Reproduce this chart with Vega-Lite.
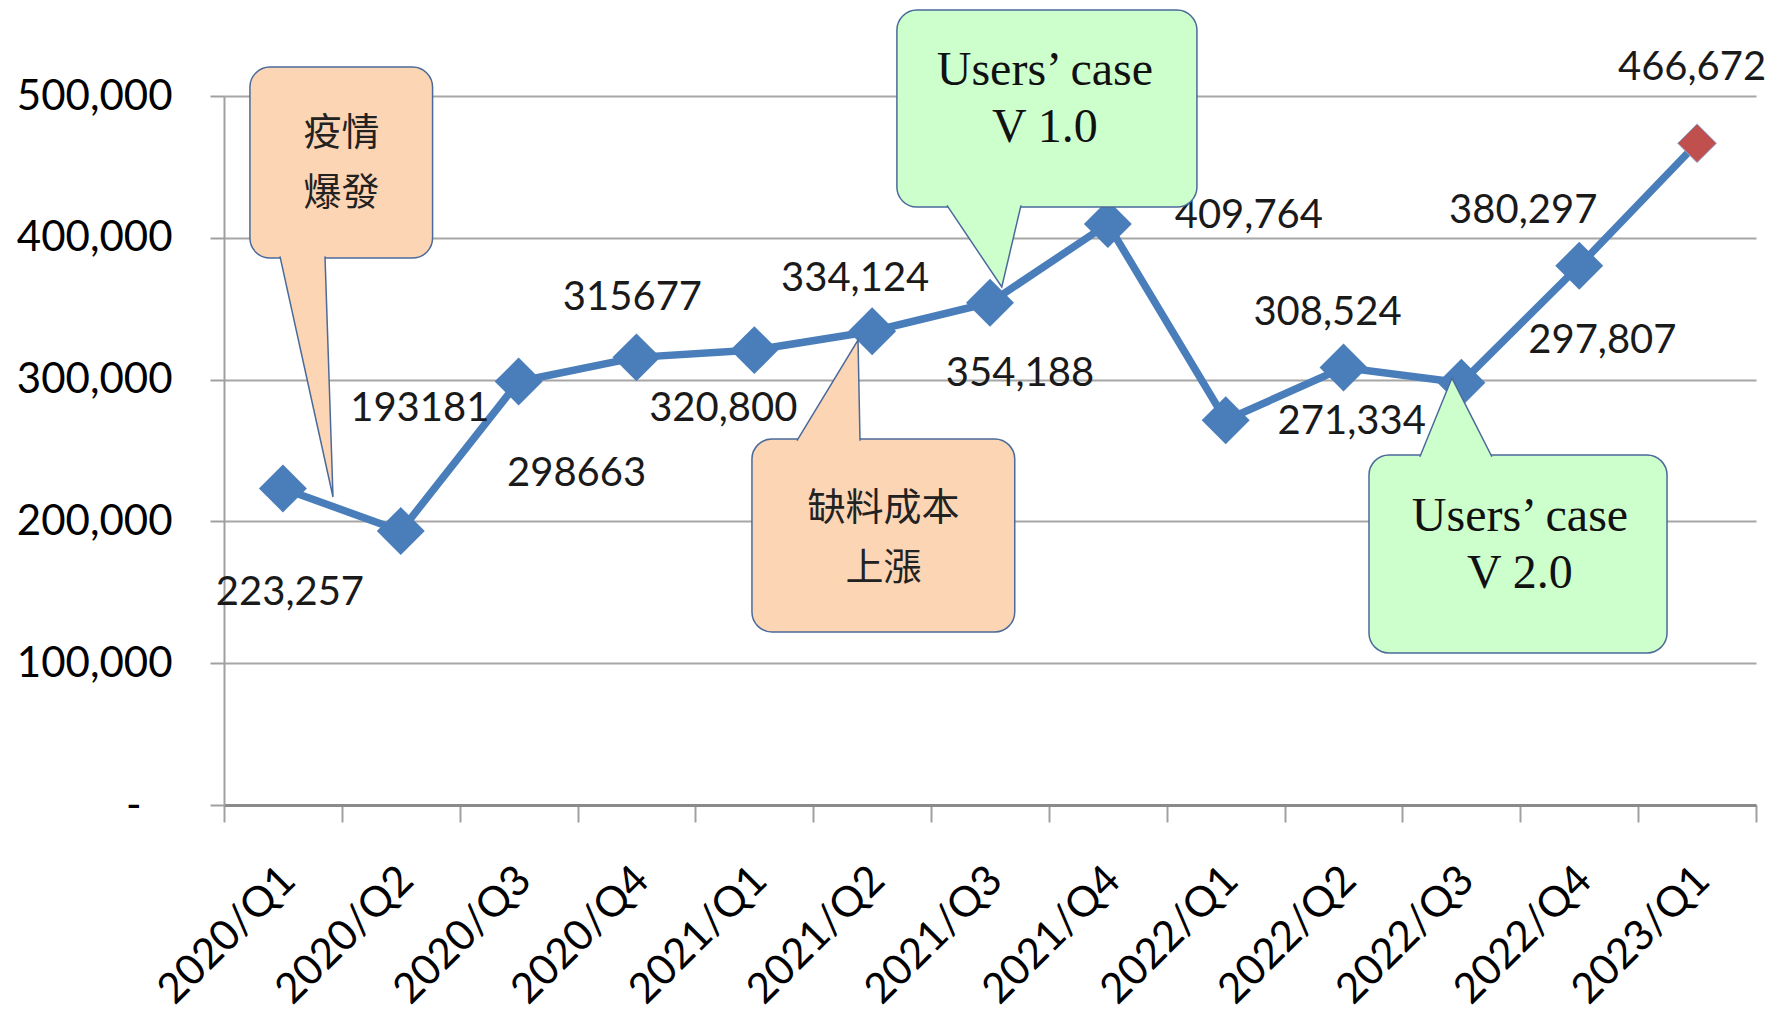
{
  "$schema": "https://vega.github.io/schema/vega-lite/v6.json",
  "width": 1532,
  "height": 709,
  "autosize": {"type": "none"},
  "padding": {"left": 224, "top": 96, "right": 15, "bottom": 219},
  "background": "white",
  "config": {"view": {"stroke": null}, "font": "Lato"},
  "datasets": {
    "sales": [
      {"q": "2020/Q1", "v": 223257, "label": "223,257"},
      {"q": "2020/Q2", "v": 193181, "label": "193181"},
      {"q": "2020/Q3", "v": 298663, "label": "298663"},
      {"q": "2020/Q4", "v": 315677, "label": "315677"},
      {"q": "2021/Q1", "v": 320800, "label": "320,800"},
      {"q": "2021/Q2", "v": 334124, "label": "334,124"},
      {"q": "2021/Q3", "v": 354188, "label": "354,188"},
      {"q": "2021/Q4", "v": 409764, "label": "409,764"},
      {"q": "2022/Q1", "v": 271334, "label": "271,334"},
      {"q": "2022/Q2", "v": 308524, "label": "308,524"},
      {"q": "2022/Q3", "v": 297807, "label": "297,807"},
      {"q": "2022/Q4", "v": 380297, "label": "380,297"},
      {"q": "2023/Q1", "v": 466672, "label": "466,672"}
    ],
    "boxes": [
      {"id": "A", "kind": "peach", "x1": 0.22, "x2": 1.77, "y1": 520400, "y2": 385700},
      {"id": "B", "kind": "peach", "x1": 4.48, "x2": 6.71, "y1": 258100, "y2": 122000},
      {"id": "C", "kind": "green", "x1": 5.71, "x2": 8.256, "y1": 560600, "y2": 421700},
      {"id": "D", "kind": "green", "x1": 9.716, "x2": 12.245, "y1": 246800, "y2": 107200}
    ],
    "pointers": [
      {"id": "A", "kind": "peach", "k": 1, "px": 0.475, "py": 386900},
      {"id": "A", "kind": "peach", "k": 2, "px": 0.925, "py": 217200},
      {"id": "A", "kind": "peach", "k": 3, "px": 0.857, "py": 386900},
      {"id": "B", "kind": "peach", "k": 1, "px": 4.862, "py": 256900},
      {"id": "B", "kind": "peach", "k": 2, "px": 5.38, "py": 327900},
      {"id": "B", "kind": "peach", "k": 3, "px": 5.397, "py": 256900},
      {"id": "C", "kind": "green", "k": 1, "px": 6.135, "py": 422900},
      {"id": "C", "kind": "green", "k": 2, "px": 6.6, "py": 365300},
      {"id": "C", "kind": "green", "k": 3, "px": 6.763, "py": 422900},
      {"id": "D", "kind": "green", "k": 1, "px": 10.148, "py": 245600},
      {"id": "D", "kind": "green", "k": 2, "px": 10.42, "py": 301100},
      {"id": "D", "kind": "green", "k": 3, "px": 10.759, "py": 245600}
    ],
    "notes": [
      {"id": "A", "kind": "cjk", "tx": 0.997, "ty": 453400, "text": "疫情\n爆發"},
      {"id": "B", "kind": "cjk", "tx": 5.596, "ty": 189000, "text": "缺料成本\n上漲"},
      {"id": "C", "kind": "latin", "tx": 6.966, "ty": 497900, "text": "Users’ case\nV 1.0"},
      {"id": "D", "kind": "latin", "tx": 10.997, "ty": 183400, "text": "Users’ case\nV 2.0"}
    ]
  },
  "resolve": {"scale": {"x": "independent", "y": "independent"}},
  "layer": [
    {
      "data": {"name": "sales"},
      "encoding": {
        "x": {
          "field": "q", "type": "ordinal", "sort": null, "bandPosition": 0.5,
          "scale": {"type": "band", "paddingInner": 0, "paddingOuter": 0},
          "axis": {
            "title": null, "labelAngle": -45, "labelFont": "Lato", "labelFontSize": 42,
            "labelColor": "#000000", "tickBand": "extent", "tickSize": 17,
            "tickColor": "#a0a0a0", "tickWidth": 2, "domainColor": "#8a8a8a",
            "domainWidth": 3, "grid": false, "labelPadding": 37, "labelOffset": -9
          }
        },
        "y": {
          "field": "v", "type": "quantitative",
          "scale": {"domain": [0, 500000], "nice": false},
          "axis": {
            "title": null, "values": [0, 100000, 200000, 300000, 400000, 500000],
            "labelExpr": "datum.value == 0 ? '-\u2800' : format(datum.value, ',')",
            "labelFont": "Lato", "labelFontSize": 42, "labelColor": "#000000",
            "tickSize": 14, "tickColor": "#a0a0a0", "tickWidth": 2,
            "domainColor": "#a0a0a0", "domainWidth": 2,
            "grid": true, "gridColor": "#a6a6a6", "gridWidth": 2, "labelPadding": 38
          }
        }
      },
      "layer": [
        {"mark": {"type": "line", "color": "#4a7ebb", "strokeWidth": 7.5}},
        {"transform": [{"filter": "datum.q != '2023/Q1'"}],
         "mark": {"type": "point", "shape": "diamond", "filled": true, "size": 2300, "color": "#4a7ebb", "opacity": 1}},
        {"transform": [{"filter": "datum.q == '2023/Q1'"}],
         "mark": {"type": "point", "shape": "diamond", "filled": true, "size": 1500, "color": "#c0504d", "opacity": 1, "stroke": "#8fa9d4", "strokeWidth": 1}},
        {"transform": [{"filter": "datum.q == '2020/Q1'"}], "mark": {"type": "text", "fontSize": 40, "color": "#1a1a1a", "dx": 7, "dy": 105}, "encoding": {"text": {"field": "label"}}},
        {"transform": [{"filter": "datum.q == '2020/Q2'"}], "mark": {"type": "text", "fontSize": 40, "color": "#1a1a1a", "dx": 19, "dy": -122}, "encoding": {"text": {"field": "label"}}},
        {"transform": [{"filter": "datum.q == '2020/Q3'"}], "mark": {"type": "text", "fontSize": 40, "color": "#1a1a1a", "dx": 58, "dy": 93}, "encoding": {"text": {"field": "label"}}},
        {"transform": [{"filter": "datum.q == '2020/Q4'"}], "mark": {"type": "text", "fontSize": 40, "color": "#1a1a1a", "dx": -4, "dy": -59}, "encoding": {"text": {"field": "label"}}},
        {"transform": [{"filter": "datum.q == '2021/Q1'"}], "mark": {"type": "text", "fontSize": 40, "color": "#1a1a1a", "dx": -31, "dy": 59}, "encoding": {"text": {"field": "label"}}},
        {"transform": [{"filter": "datum.q == '2021/Q2'"}], "mark": {"type": "text", "fontSize": 40, "color": "#1a1a1a", "dx": -17, "dy": -52}, "encoding": {"text": {"field": "label"}}},
        {"transform": [{"filter": "datum.q == '2021/Q3'"}], "mark": {"type": "text", "fontSize": 40, "color": "#1a1a1a", "dx": 30, "dy": 71}, "encoding": {"text": {"field": "label"}}},
        {"transform": [{"filter": "datum.q == '2021/Q4'"}], "mark": {"type": "text", "fontSize": 40, "color": "#1a1a1a", "dx": 141, "dy": -8}, "encoding": {"text": {"field": "label"}}},
        {"transform": [{"filter": "datum.q == '2022/Q1'"}], "mark": {"type": "text", "fontSize": 40, "color": "#1a1a1a", "dx": 126, "dy": 2}, "encoding": {"text": {"field": "label"}}},
        {"transform": [{"filter": "datum.q == '2022/Q2'"}], "mark": {"type": "text", "fontSize": 40, "color": "#1a1a1a", "dx": -16, "dy": -55}, "encoding": {"text": {"field": "label"}}},
        {"transform": [{"filter": "datum.q == '2022/Q3'"}], "mark": {"type": "text", "fontSize": 40, "color": "#1a1a1a", "dx": 141, "dy": -42}, "encoding": {"text": {"field": "label"}}},
        {"transform": [{"filter": "datum.q == '2022/Q4'"}], "mark": {"type": "text", "fontSize": 40, "color": "#1a1a1a", "dx": -56, "dy": -55}, "encoding": {"text": {"field": "label"}}},
        {"transform": [{"filter": "datum.q == '2023/Q1'"}], "mark": {"type": "text", "fontSize": 40, "color": "#1a1a1a", "dx": -5, "dy": -75}, "encoding": {"text": {"field": "label"}}}
      ]
    },
    {
      "data": {"name": "boxes"},
      "mark": {"type": "rect", "cornerRadius": 20, "stroke": "#4a6a9a", "strokeWidth": 1.5},
      "encoding": {
        "x": {"field": "x1", "type": "quantitative", "scale": {"domain": [0, 13], "nice": false}, "axis": null},
        "x2": {"field": "x2"},
        "y": {"field": "y1", "type": "quantitative", "scale": {"domain": [0, 500000], "nice": false}, "axis": null},
        "y2": {"field": "y2"},
        "fill": {"field": "kind", "type": "nominal", "scale": {"domain": ["peach", "green"], "range": ["#fcd5b5", "#ccffcc"]}, "legend": null}
      }
    },
    {
      "data": {"name": "pointers"},
      "transform": [{"filter": "datum.kind == 'peach'"}],
      "mark": {"type": "line", "fill": "#fcd5b5", "stroke": "#4a6a9a", "strokeWidth": 1.5, "strokeJoin": "miter"},
      "encoding": {
        "x": {"field": "px", "type": "quantitative", "scale": {"domain": [0, 13], "nice": false}, "axis": null},
        "y": {"field": "py", "type": "quantitative", "scale": {"domain": [0, 500000], "nice": false}, "axis": null},
        "detail": {"field": "id"},
        "order": {"field": "k", "type": "quantitative"}
      }
    },
    {
      "data": {"name": "pointers"},
      "transform": [{"filter": "datum.kind == 'green'"}],
      "mark": {"type": "line", "fill": "#ccffcc", "stroke": "#4a6a9a", "strokeWidth": 1.5, "strokeJoin": "miter"},
      "encoding": {
        "x": {"field": "px", "type": "quantitative", "scale": {"domain": [0, 13], "nice": false}, "axis": null},
        "y": {"field": "py", "type": "quantitative", "scale": {"domain": [0, 500000], "nice": false}, "axis": null},
        "detail": {"field": "id"},
        "order": {"field": "k", "type": "quantitative"}
      }
    },
    {
      "data": {"name": "notes"},
      "transform": [{"filter": "datum.kind == 'cjk'"}],
      "mark": {"type": "text", "font": "Noto Sans CJK TC", "fontSize": 38, "lineHeight": 60, "lineBreak": "\n", "color": "#222222", "align": "center", "baseline": "middle", "dy": -28},
      "encoding": {
        "x": {"field": "tx", "type": "quantitative", "scale": {"domain": [0, 13], "nice": false}, "axis": null},
        "y": {"field": "ty", "type": "quantitative", "scale": {"domain": [0, 500000], "nice": false}, "axis": null},
        "text": {"field": "text"}
      }
    },
    {
      "data": {"name": "notes"},
      "transform": [{"filter": "datum.kind == 'latin'"}],
      "mark": {"type": "text", "font": "Liberation Serif", "fontSize": 48, "lineHeight": 57, "lineBreak": "\n", "color": "#111111", "align": "center", "baseline": "middle", "dy": -28},
      "encoding": {
        "x": {"field": "tx", "type": "quantitative", "scale": {"domain": [0, 13], "nice": false}, "axis": null},
        "y": {"field": "ty", "type": "quantitative", "scale": {"domain": [0, 500000], "nice": false}, "axis": null},
        "text": {"field": "text"}
      }
    }
  ]
}
